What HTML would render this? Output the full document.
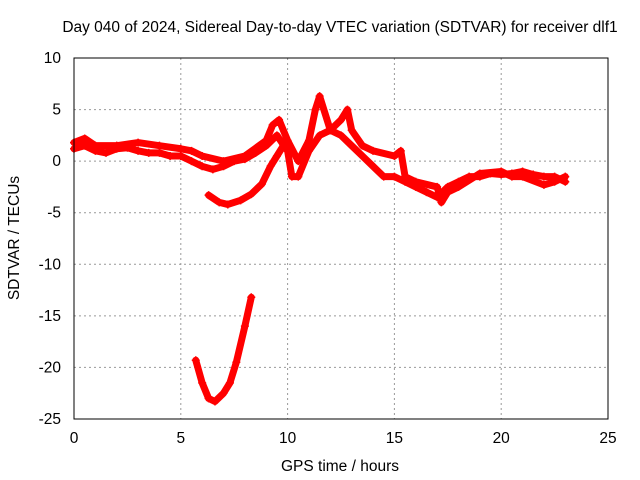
<!DOCTYPE html>
<html><head><meta charset="utf-8"><style>
body{margin:0;background:#fff}
svg{display:block;font-family:"Liberation Sans",sans-serif;font-size:15.5px}
</style></head><body>
<svg id="chart" width="640" height="480">
<text x="340" y="32" text-anchor="middle" font-size="15.5">Day 040 of 2024, Sidereal Day-to-day VTEC variation (SDTVAR) for receiver dlf1</text>
<text x="340" y="471" text-anchor="middle">GPS time / hours</text>
<text transform="translate(19,238) rotate(-90)" text-anchor="middle">SDTVAR / TECUs</text>
<g id="grid"></g><g id="marks"></g>
<rect x="74" y="58" width="534" height="361" fill="none" stroke="#000"/>
</svg>
<script>
const xTicks=[0,5,10,15,20,25];
const yTicks=[10,5,0,-5,-10,-15,-20,-25];
const seriesAX=[0,0.5,1,1.5,2,2.5,3,3.5,4,4.5,5,5.5,6,6.5,7,7.5,8,8.5,9,9.5,10,10.2,10.5,11,11.5,12,12.5,13,13.5,14,14.5,15,15.5,16,16.5,17,17.5,18,18.5,19,19.5,20,20.5,21,21.5,22,22.5,23];
const seriesAY=[1.2,1.5,1,0.8,1.2,1.3,1,0.8,0.8,0.5,0.5,0,-0.5,-0.8,-0.5,0,0.2,0.8,1.5,2.5,1,-1.5,-1.5,1,2.5,3,2.5,1.5,0.5,-0.5,-1.5,-1.5,-2,-2.5,-3,-3.5,-2.5,-2,-1.5,-1.5,-1.2,-1.3,-1.2,-1,-1.3,-1.5,-1.5,-2];
const seriesBX=[0,0.5,1,2,3,4,5,5.5,6,7,8,9,9.3,9.6,10,10.5,11,11.3,11.5,12,12.5,12.8,13,13.5,14,15,15.3,15.5,16,17,17.2,17.5,18,19,20,20.5,21,22,22.5,23];
const seriesBY=[1.8,2.2,1.5,1.5,1.8,1.5,1.2,1,0.5,0,0.5,2,3.5,4,2,0,2,5,6.3,3,4,5,3,1.5,1,0.5,1,-1.5,-2,-2.5,-4,-3,-2.5,-1.2,-1,-1.5,-1.5,-2.3,-2,-1.5];
const seriesCX=[6.3,6.8,7.2,7.8,8.3,8.8,9.2,9.5,9.8];
const seriesCY=[-3.3,-4,-4.2,-3.8,-3.2,-2.2,-0.5,0.5,1.5];
const seriesDX=[5.7,6,6.3,6.6,7,7.3,7.6,8,8.3];
const seriesDY=[-19.3,-21.5,-23,-23.3,-22.5,-21.5,-19.5,-16,-13.2];
const NS='http://www.w3.org/2000/svg';
const sx=v=>74+v*(534/25), sy=v=>58+(10-v)*(361/35);
const grid=document.getElementById('grid'), marks=document.getElementById('marks');
function mk(t,a,p){const e=document.createElementNS(NS,t);for(const k in a)e.setAttribute(k,a[k]);p.appendChild(e);return e;}
xTicks.forEach(t=>{const x=sx(t);
 if(t>0&&t<25){const l=mk('line',{x1:x,x2:x,y1:58,y2:419,stroke:'#999','stroke-dasharray':'2,3'},grid);}
 const tx=mk('text',{x:x,y:443,'text-anchor':'middle'},grid);tx.textContent=t;
 
 });
yTicks.forEach(t=>{const y=sy(t);
 if(t>-25&&t<10){const l=mk('line',{x1:74,x2:608,y1:y,y2:y,stroke:'#999','stroke-dasharray':'2,3'},grid);}
 const tx=mk('text',{x:61,y:y+5,'text-anchor':'end'},grid);tx.textContent=t;
 
 });
[[seriesAX,seriesAY,'series-main'],[seriesBX,seriesBY,'series-upper'],[seriesCX,seriesCY,'series-dip'],[seriesDX,seriesDY,'series-bottom']].forEach(([xs,ys,n])=>{
 const pts=xs.map((x,i)=>sx(x)+','+sy(ys[i])).join(' ');
 const pl=mk('polyline',{points:pts,fill:'none',stroke:'#f00','stroke-width':7,'stroke-linejoin':'round','stroke-linecap':'round'},marks);
 
 
 xs.forEach((x,i)=>{const cx=sx(x),cy=sy(ys[i]);
  const p=mk('path',{d:`M${cx-4},${cy}H${cx+4}M${cx},${cy-4}V${cy+4}`,stroke:'#f00','stroke-width':1.5},marks);
  
  });
});
</script>
</body></html>
